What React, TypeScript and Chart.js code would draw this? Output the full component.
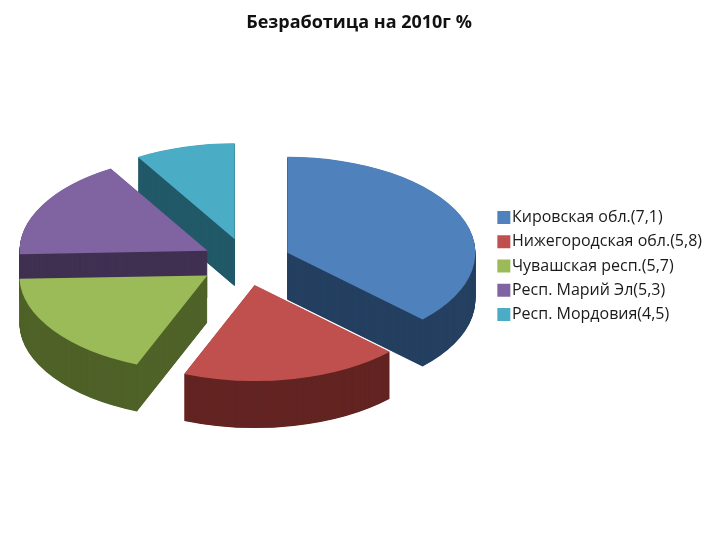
import React, { useEffect, useRef } from "react";
import { Chart, registerables } from "chart.js";

Chart.register(...registerables);

const titleText = "Безработица на 2010г %";
const categories = [
  "Кировская обл.(7,1)",
  "Нижегородская обл.(5,8)",
  "Чувашская респ.(5,7)",
  "Респ. Марий Эл(5,3)",
  "Респ. Мордовия(4,5)",
];
// Share of the circle each slice visibly takes in the picture (degrees)
const sliceShares = [134, 68, 66, 61, 31];
const topColors = ["#4F81BD", "#C0504D", "#9BBB59", "#8064A2", "#4BACC6"];
const wallColors = ["#254061", "#632523", "#4F6228", "#403152", "#215968"];
const drawOrder = [4, 3, 0, 2, 1];
const sliceNudgeX = [0, 0, 0, 3, 2];

const CENTER_X = 245;
const CENTER_Y = 262;
const RADIUS_X = 188;
const RADIUS_Y = 96;
const DEPTH = 47;
const EXPLODE = 46;

const pie3d = {
  id: "pie3d",
  beforeDatasetsDraw(chart: any) {
    const ctx = chart.ctx;
    const arcs = chart.getDatasetMeta(0).data;
    for (const i of drawOrder) {
      const arc = arcs[i];
      const sx = RADIUS_X / arc.outerRadius;
      const sy = RADIUS_Y / arc.outerRadius;
      const mid = (arc.startAngle + arc.endAngle) / 2;
      const ox = Math.cos(mid) * EXPLODE + sliceNudgeX[i];
      const oy = (Math.sin(mid) * EXPLODE * RADIUS_Y) / RADIUS_X;
      const paint = (dy: number, color: string) => {
        const saved = arc.options;
        arc.options = Object.assign({}, saved, { backgroundColor: color, borderWidth: 0 });
        ctx.save();
        ctx.translate(CENTER_X + ox, CENTER_Y + oy + dy);
        ctx.scale(sx, sy);
        ctx.translate(-arc.x, -arc.y);
        arc.draw(ctx);
        ctx.restore();
        arc.options = saved;
      };
      for (let d = DEPTH; d >= 0.5; d -= 0.5) paint(d, wallColors[i]);
      paint(0, topColors[i]);
    }
    return false;
  },
};

export default function App() {
  const ref = useRef<HTMLCanvasElement | null>(null);
  useEffect(() => {
    const chart = new Chart(ref.current as HTMLCanvasElement, {
      type: "pie",
      data: {
        labels: categories,
        datasets: [
          {
            data: sliceShares,
            backgroundColor: topColors,
            borderWidth: 0,
          } as any,
        ],
      },
      options: {
        responsive: false,
        animation: false,
        layout: { padding: { left: 6, right: 8, bottom: 12, top: 4 } },
        plugins: {
          title: {
            display: true,
            text: titleText,
            color: "#111111",
            font: { family: "'Open Sans'", size: 18, weight: "bold" },
            padding: { top: 8, bottom: 4 },
          },
          tooltip: { enabled: false },
          legend: {
            position: "right",
            labels: {
              color: "#1a1a1a",
              font: { family: "'Open Sans'", size: 16 },
              usePointStyle: true,
              pointStyle: "rect",
              boxWidth: 0.2,
              boxHeight: 13,
              padding: 8.3,
            },
          },
        },
      },
      plugins: [pie3d],
    } as any);
    return () => chart.destroy();
  }, []);
  return (
    <div style={{ position: "absolute", left: 0, top: 0, width: 720, height: 540, background: "#fff" }}>
      <canvas ref={ref} width={720} height={540} style={{ display: "block" }} />
    </div>
  );
}
